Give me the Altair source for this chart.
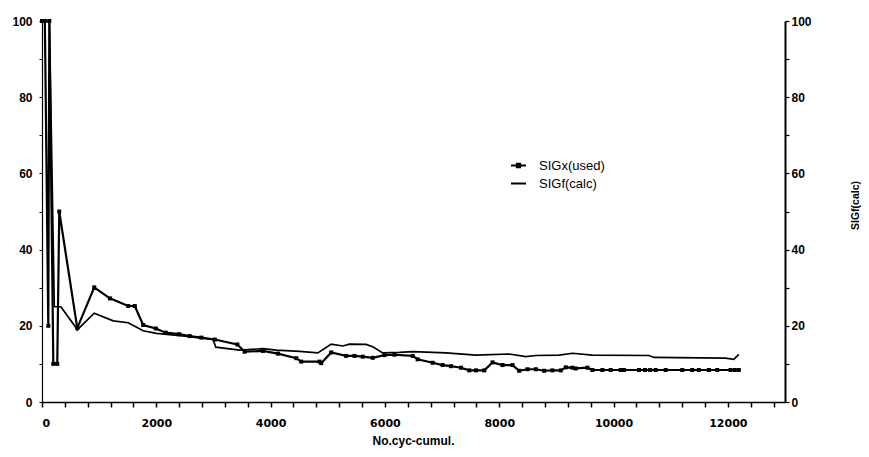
import altair as alt
import pandas as pd

# ---- data ----
sigx_cyc = [0, 50, 110, 128, 198, 267, 302, 617, 914, 1188, 1508, 1624, 1770, 1991,
            2166, 2399, 2585, 2789, 3022, 3418, 3546, 3866, 4128, 4449, 4536, 4856,
            4885, 5060, 5322, 5467, 5612, 5787, 5991, 6166, 6486, 6573, 6835, 7010,
            7156, 7331, 7476, 7593, 7738, 7883, 8058, 8233, 8349, 8495, 8641, 8786,
            8930, 9077, 9165, 9281, 9339, 9543, 9630, 9805, 9950, 10125, 10183, 10445,
            10550, 10640, 10737, 10912, 11202, 11377, 11493, 11668, 11813, 12047,
            12120, 12192]
sigx_val = [100, 100, 20, 100, 10, 10, 50, 19.4, 30.1, 27.2, 25.2, 25.2, 20.2, 19.3,
            18.2, 17.8, 17.3, 16.9, 16.4, 15.1, 13.2, 13.4, 12.7, 11.5, 10.6, 10.6,
            10.2, 13.0, 12.1, 12.1, 11.9, 11.6, 12.3, 12.4, 12.1, 11.2, 10.3, 9.7,
            9.4, 9.0, 8.3, 8.3, 8.3, 10.4, 9.7, 9.7, 8.2, 8.6, 8.6, 8.2,
            8.3, 8.3, 9.1, 9.0, 8.8, 9.0, 8.4, 8.4, 8.4, 8.4, 8.4, 8.4,
            8.4, 8.4, 8.4, 8.4, 8.4, 8.4, 8.4, 8.4, 8.4, 8.4,
            8.4, 8.4]

sigf_cyc = [0, 60, 130, 215, 330, 620, 914, 1246, 1508, 1770, 2003, 2500, 2993, 3040,
            3459, 3866, 4100, 4507, 4827, 5060, 5263, 5380, 5671, 5787, 5962, 6253,
            6486, 7069, 7593, 8175, 8466, 8641, 9048, 9281, 9630, 10620, 10707, 11959,
            12105, 12192]
sigf_val = [100, 100, 100, 25, 25, 19, 23.3, 21.3, 20.8, 18.7, 18.0, 17.3, 16.4, 14.4,
            13.6, 14.0, 13.6, 13.3, 12.9, 15.2, 14.7, 15.2, 15.1, 14.5, 12.9, 13.0,
            13.2, 12.9, 12.3, 12.6, 11.9, 12.2, 12.3, 12.8, 12.3, 12.2, 11.7, 11.5,
            11.2, 12.5]

series_names = ["SIGx(used)", "SIGf(calc)"]
x_ticks = list(range(0, 13000, 400))
y_ticks = list(range(0, 101, 10))

df_x = pd.DataFrame({"cyc": sigx_cyc, "val": sigx_val, "series": series_names[0]})
df_f = pd.DataFrame({"cyc": sigf_cyc, "val": sigf_val, "series": series_names[1]})
df_empty = pd.DataFrame({"cyc": pd.Series([], dtype=float),
                         "val": pd.Series([], dtype=float),
                         "series": pd.Series([], dtype=str)})

LBL = "Liberation Sans"
legend_path = "M-1,0H1M-0.22,-0.22H0.22V0.22H-0.22Z"

legend_kw = dict(
    title=None, orient="none", legendX=468, legendY=136,
    labelFont=LBL, labelFontSize=13, labelColor="black", labelLimit=200,
    symbolSize=225, symbolStrokeWidth=2, symbolStrokeColor="black",
    symbolFillColor="black", rowPadding=2, labelOffset=12,
)

x_enc = alt.X(
    "cyc:Q",
    scale=alt.Scale(domain=[0, 13000], nice=False, zero=True),
    axis=alt.Axis(
        title="No.cyc-cumul.", values=x_ticks, format="d",
        labelExpr="datum.value % 2000 === 0 ? datum.label : ''",
        grid=False, domainColor="black", domainWidth=1.5, tickColor="black",
        tickWidth=1.5, tickSize=5, labelPadding=10, labelFont="DejaVu Sans",
        labelFontWeight="bold", labelFontSize=11, labelColor="black",
        titleFont=LBL, titleFontWeight="bold", titleFontSize=12,
        titleColor="black", titlePadding=7, labelOverlap=False,
        titleX=371, titleAnchor="middle"),
)

color_enc = alt.Color(
    "series:N",
    scale=alt.Scale(domain=series_names, range=["black", "black"]),
    sort=series_names,
    legend=alt.Legend(**legend_kw),
)
shape_enc = alt.Shape(
    "series:N",
    scale=alt.Scale(domain=series_names, range=[legend_path, "stroke"]),
    sort=series_names,
    legend=alt.Legend(**legend_kw),
)

y_left = alt.Y(
    "val:Q",
    scale=alt.Scale(domain=[0, 100], nice=False),
    axis=alt.Axis(
        title=None, orient="left", values=y_ticks,
        labelExpr="datum.value % 20 === 0 ? datum.label : ''",
        grid=False, domainColor="black", domainWidth=1.2, tickColor="black",
        tickSize=3, tickWidth=1, labelPadding=7, labelFont=LBL,
        labelFontWeight="bold", labelFontSize=12, labelColor="black",
        labelOverlap=False),
)

y_right = alt.Y(
    "val:Q",
    scale=alt.Scale(domain=[0, 100], nice=False),
    axis=alt.Axis(
        title="SIGf(calc)", orient="right", values=y_ticks,
        labelExpr="datum.value % 20 === 0 ? datum.label : ''",
        grid=False, domainColor="black", domainWidth=2, tickColor="black",
        tickSize=4, tickWidth=1.2, labelPadding=2, labelFont=LBL,
        labelFontWeight="bold", labelFontSize=12, labelColor="black",
        labelOverlap=False, titleFont=LBL, titleFontWeight="bold",
        titleFontSize=10.5, titleColor="black", titleAngle=270,
        titleX=70, titleY=184, titleAlign="center", titleBaseline="middle"),
)

line_x = alt.Chart(df_x).mark_line(strokeWidth=2.2).encode(
    x=x_enc, y=y_left, color=color_enc)
pts_x = alt.Chart(df_x).mark_point(
    shape="square", filled=True, size=16, color="black", opacity=1).encode(
    x=x_enc, y=y_left)
legend_ghost = alt.Chart(df_empty).mark_point(filled=True, opacity=1).encode(
    x=x_enc, y=y_left, color=color_enc, shape=shape_enc)
left = alt.layer(line_x, pts_x, legend_ghost)

line_f = alt.Chart(df_f).mark_line(strokeWidth=1.7).encode(
    x=x_enc, y=y_right, color=color_enc)

chart = (
    alt.layer(left, line_f)
    .resolve_scale(y="independent")
    .properties(
        width=743, height=381,
        autosize=alt.AutoSizeParams(type="none"),
        padding={"left": 34, "top": 13, "right": 76, "bottom": 47},
        background="white",
    )
    .configure_view(stroke=None)
)

chart.save("out.html", embed_options={"renderer": "svg", "actions": False})
